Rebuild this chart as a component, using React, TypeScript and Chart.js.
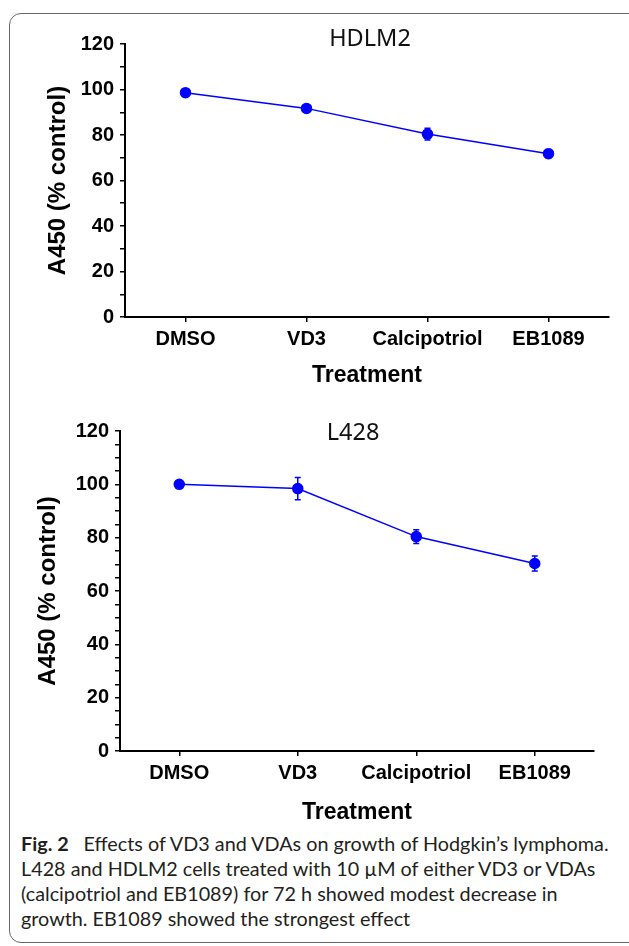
import React, { useEffect, useRef } from "react";
import { Chart, registerables } from "chart.js";

Chart.register(...registerables);

const categories = ["DMSO", "VD3", "Calcipotriol", "EB1089"];
const hdlm2Values = [98.6, 91.7, 80.4, 71.8];
const hdlm2Errors = [1.0, 1.0, 2.6, 1.8];
const l428Values = [100, 98.4, 80.4, 70.3];
const l428Errors = [0.8, 4.2, 2.6, 2.8];
const yMin = 0;
const yMax = 120;
const yLabelEvery = 20;

const captionLines = [
  "Effects of VD3 and VDAs on growth of Hodgkin\u2019s lymphoma.",
  "L428 and HDLM2 cells treated with 10 \u00b5M of either VD3 or VDAs",
  "(calcipotriol and EB1089) for 72 h showed modest decrease in",
  "growth. EB1089 showed the strongest effect",
];

const SANS = '"Liberation Sans", Arial, sans-serif';
const BLUE = "#0000ff";

type PanelProps = {
  title: string;
  values: number[];
  errors: number[];
  stepSize: number;
  box: { left: number; top: number; width: number; height: number };
  area: { left: number; top: number; right: number; bottom: number };
  yTitleX: number;
  xTitleY: number;
  titleDx: number;
  titleDy: number;
};

function Panel(p: PanelProps) {
  const ref = useRef<HTMLCanvasElement | null>(null);
  useEffect(() => {
    if (!ref.current) return;
    const yAxisWidth = p.area.left - p.box.left;
    const xAxisHeight = p.box.top + p.box.height - p.area.bottom;
    const yTitleSize = 24;
    const xTitleSize = 23;
    const errorPlugin = {
      id: "errorBars",
      beforeDatasetsDraw(chart: any) {
        const { ctx, scales } = chart;
        ctx.save();
        ctx.strokeStyle = BLUE;
        ctx.lineWidth = 1.5;
        p.values.forEach((v, i) => {
          const x = scales.x.getPixelForValue(i);
          const yt = scales.y.getPixelForValue(v + p.errors[i]);
          const yb = scales.y.getPixelForValue(v - p.errors[i]);
          ctx.beginPath();
          ctx.moveTo(x, yt);
          ctx.lineTo(x, yb);
          ctx.moveTo(x - 3, yt);
          ctx.lineTo(x + 3, yt);
          ctx.moveTo(x - 3, yb);
          ctx.lineTo(x + 3, yb);
          ctx.stroke();
        });
        ctx.restore();
      },
    };
    const titlePlugin = {
      id: "panelTitle",
      afterDraw(chart: any) {
        const { ctx, chartArea } = chart;
        ctx.save();
        ctx.font = '23.5px "Noto Sans", "Open Sans", sans-serif';
        ctx.fillStyle = "#111";
        ctx.textAlign = "center";
        ctx.textBaseline = "middle";
        ctx.fillText(
          p.title,
          (chartArea.left + chartArea.right) / 2 + p.titleDx,
          chartArea.top + p.titleDy
        );
        ctx.restore();
      },
    };
    const chart = new Chart(ref.current, {
      type: "line",
      data: {
        labels: categories,
        datasets: [
          {
            data: p.values,
            borderColor: BLUE,
            backgroundColor: BLUE,
            borderWidth: 1.5,
            pointRadius: 5,
            pointHoverRadius: 5,
            pointBackgroundColor: BLUE,
            pointBorderColor: BLUE,
            tension: 0,
            fill: false,
          },
        ],
      },
      options: {
        animation: false,
        responsive: true,
        maintainAspectRatio: false,
        layout: {
          padding: {
            left: 0,
            bottom: 0,
            top: p.area.top - p.box.top,
            right: p.box.left + p.box.width - p.area.right,
          },
        },
        plugins: {
          legend: { display: false },
          tooltip: { enabled: false },
          title: { display: false },
        },
        scales: {
          x: {
            type: "category",
            offset: true,
            grid: {
              display: true,
              drawOnChartArea: false,
              drawTicks: true,
              tickLength: 5,
              color: "#000",
              lineWidth: 1.5,
              offset: false,
            },
            border: { display: true, color: "#000", width: 2 },
            ticks: {
              color: "#000",
              font: { family: SANS, size: 20, weight: "bold" },
              padding: 5,
              maxRotation: 0,
              autoSkip: false,
            },
            title: {
              display: true,
              text: "Treatment",
              color: "#000",
              font: { family: SANS, size: xTitleSize, weight: "bold" },
              padding: {
                top: 0,
                bottom: p.box.height - p.xTitleY - (xTitleSize * 1.2) / 2,
              },
            },
            afterFit: (s: any) => {
              s.height = xAxisHeight;
            },
          },
          y: {
            min: yMin,
            max: yMax,
            grid: {
              display: true,
              drawOnChartArea: false,
              drawTicks: true,
              tickLength: 5,
              color: "#000",
              lineWidth: 1.5,
            },
            border: { display: true, color: "#000", width: 2 },
            ticks: {
              stepSize: p.stepSize,
              autoSkip: false,
              color: "#000",
              padding: 6,
              font: { family: SANS, size: 20, weight: "bold" },
              callback: (v: any) => (Number(v) % yLabelEvery === 0 ? String(v) : ""),
            },
            title: {
              display: true,
              text: "A450 (% control)",
              color: "#000",
              font: { family: SANS, size: yTitleSize, weight: "bold" },
              padding: {
                top: p.yTitleX - p.box.left - (yTitleSize * 1.2) / 2,
                bottom: 0,
              },
            },
            afterFit: (s: any) => {
              s.width = yAxisWidth;
            },
          },
        },
      },
      plugins: [errorPlugin, titlePlugin],
    } as any);
    return () => chart.destroy();
  }, []);
  return (
    <div
      style={{
        position: "absolute",
        left: p.box.left,
        top: p.box.top,
        width: p.box.width,
        height: p.box.height,
      }}
    >
      <canvas ref={ref} />
    </div>
  );
}

export default function App() {
  return (
    <div
      style={{
        position: "absolute",
        left: 0,
        top: 0,
        width: 629,
        height: 946,
        overflow: "hidden",
        background: "#fff",
      }}
    >
      <div
        style={{
          position: "absolute",
          left: 9,
          top: 13,
          width: 650,
          height: 930,
          border: "1.5px solid #666",
          borderRadius: 12,
          boxSizing: "border-box",
        }}
      />
      <Panel
        title="HDLM2"
        values={hdlm2Values}
        errors={hdlm2Errors}
        stepSize={10}
        box={{ left: 0, top: 0, width: 629, height: 395 }}
        area={{ left: 125, top: 44, right: 609, bottom: 317 }}
        yTitleX={58}
        xTitleY={375.5}
        titleDx={3}
        titleDy={-5}
      />
      <Panel
        title="L428"
        values={l428Values}
        errors={l428Errors}
        stepSize={5}
        box={{ left: 0, top: 400, width: 629, height: 430 }}
        area={{ left: 120, top: 431, right: 594, bottom: 751 }}
        yTitleX={48}
        xTitleY={413}
        titleDx={-4}
        titleDy={2}
      />
      <div
        style={{
          position: "absolute",
          left: 21,
          top: 831,
          fontFamily: "Lato, sans-serif",
          fontSize: 19.8,
          lineHeight: "25px",
          color: "#231f20",
          whiteSpace: "nowrap",
        }}
      >
        <div>
          <b>Fig. 2</b>
          {"\u2003"}
          {captionLines[0]}
        </div>
        <div>{captionLines[1]}</div>
        <div>{captionLines[2]}</div>
        <div>{captionLines[3]}</div>
      </div>
    </div>
  );
}
